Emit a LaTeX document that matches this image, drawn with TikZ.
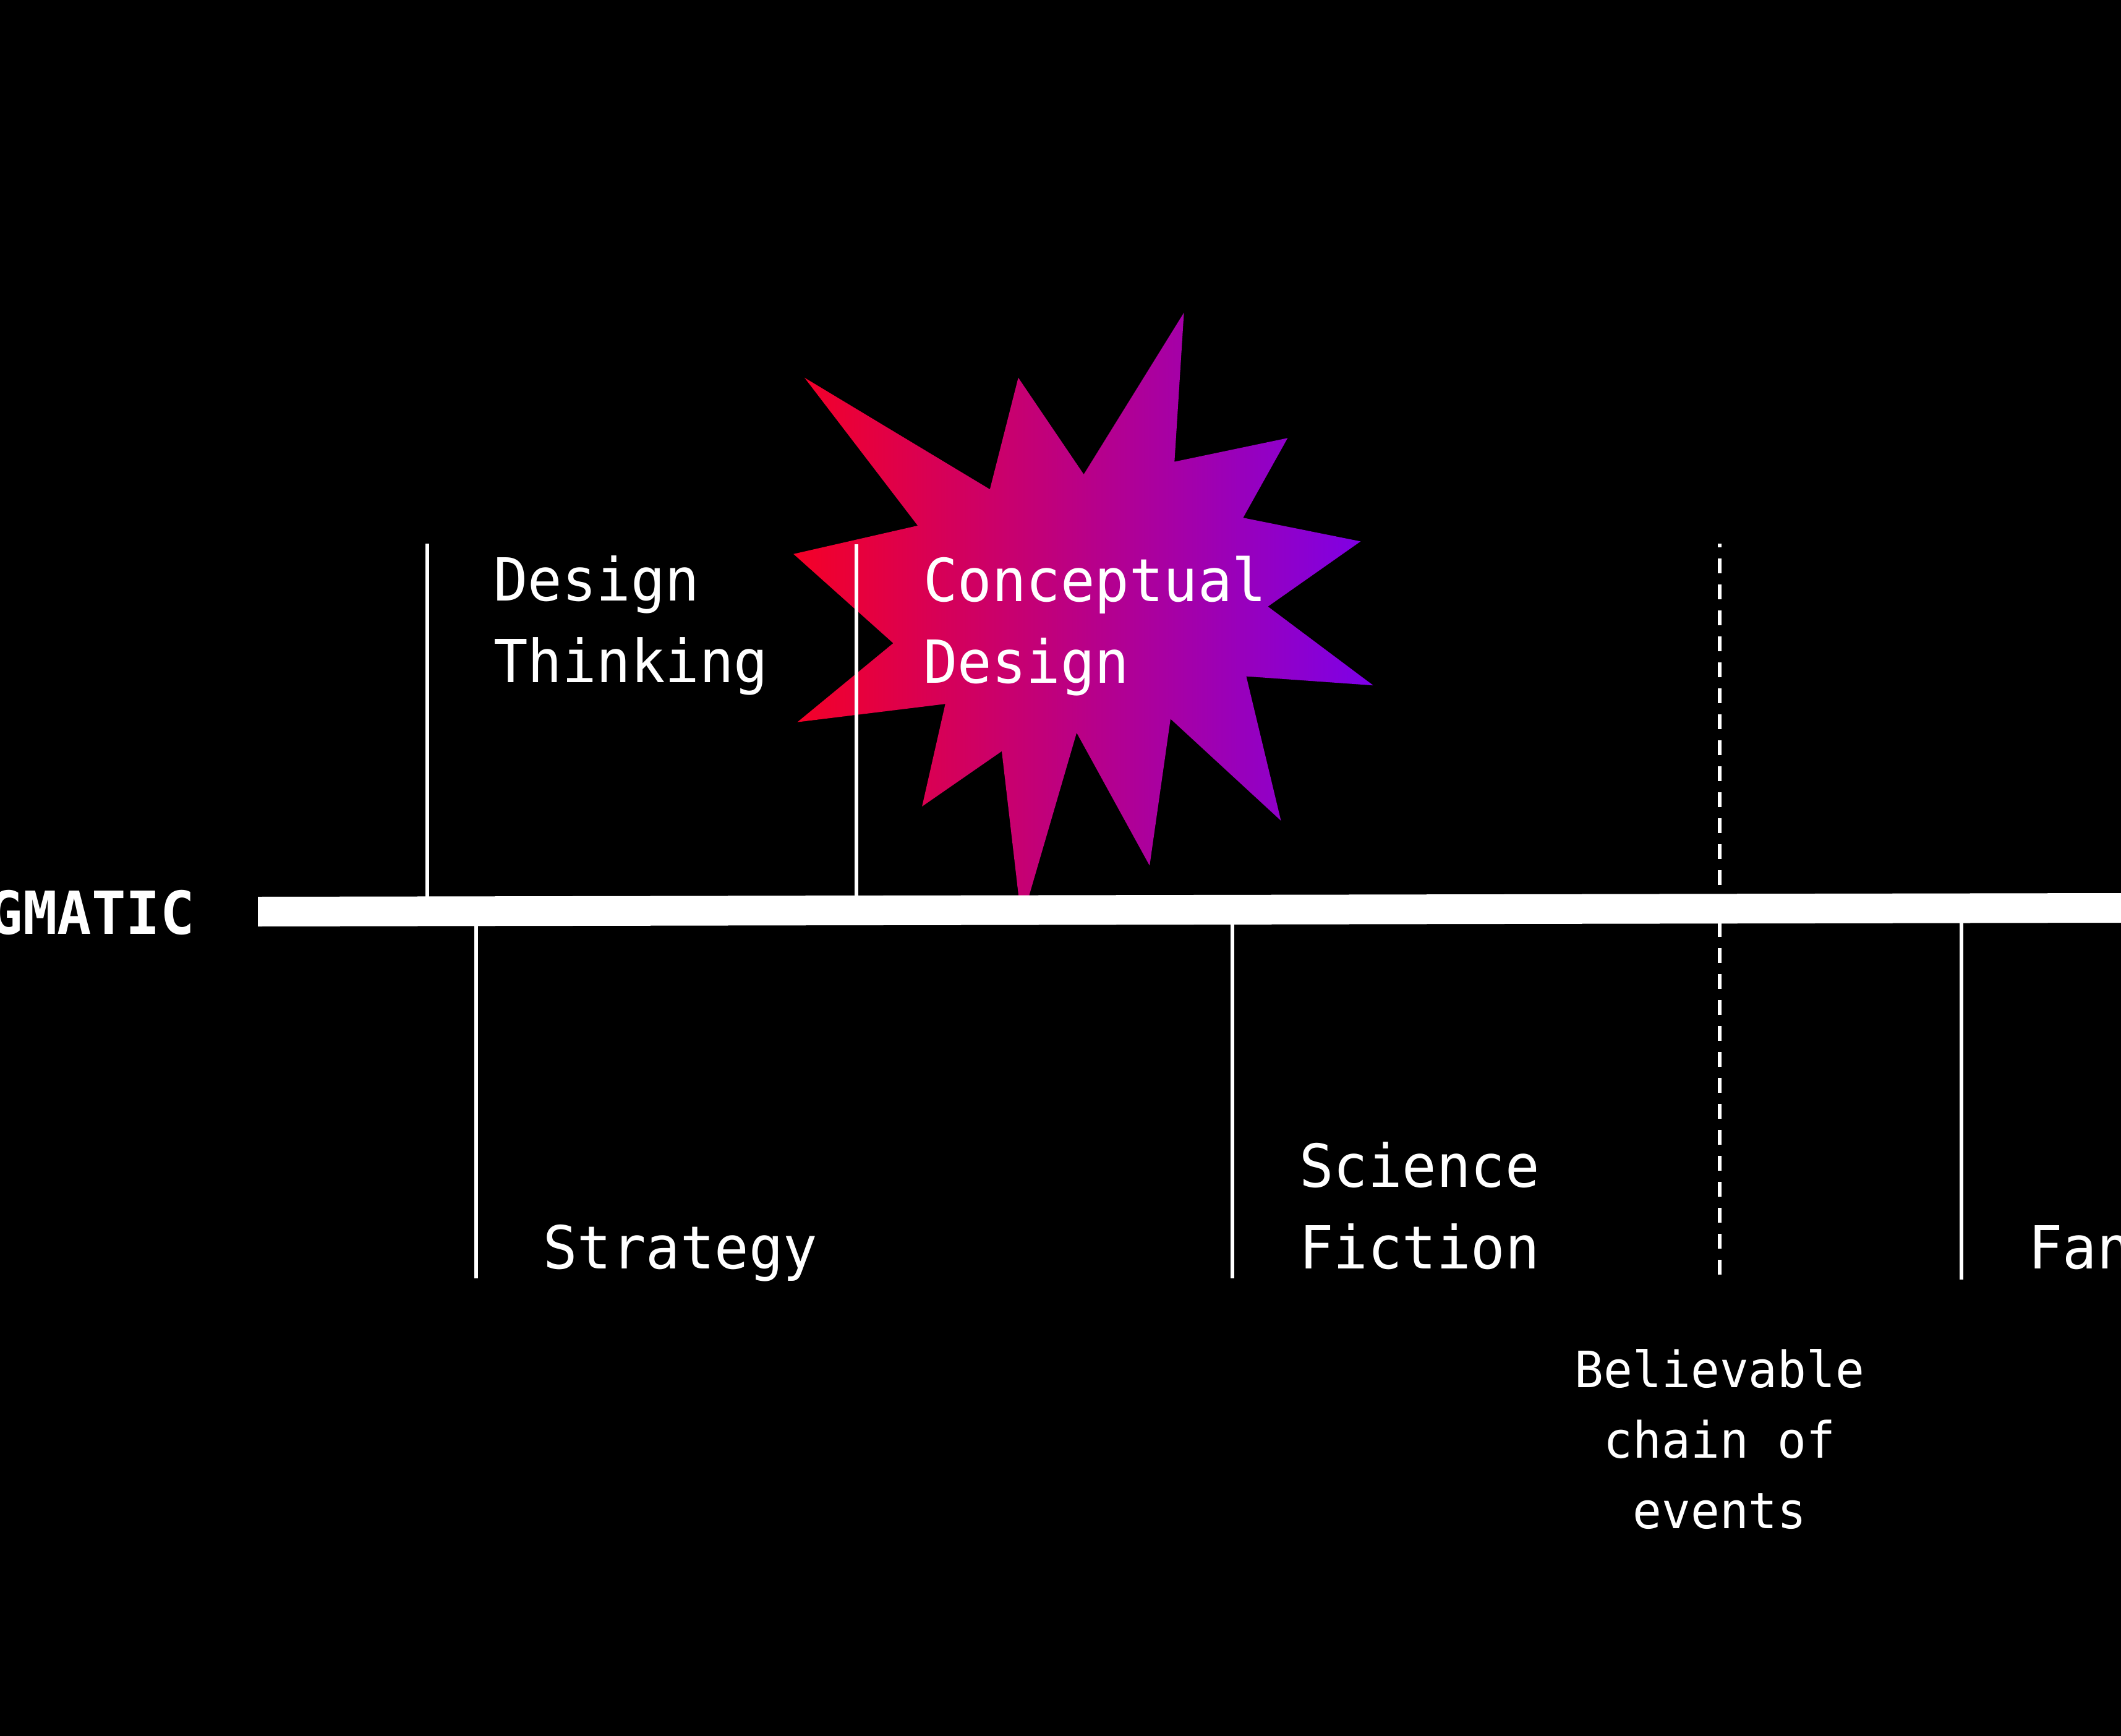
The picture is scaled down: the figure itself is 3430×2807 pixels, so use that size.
\documentclass[tikz,border=0pt]{standalone}
\usepackage{fontspec}
\setmonofont{DejaVu Sans Mono}[FakeStretch=0.96]
\definecolor{starL}{RGB}{245,0,38}
\definecolor{starR}{RGB}{125,0,232}
\begin{document}
\begin{tikzpicture}[x=1pt,y=-1pt,
  lbl/.style={text=white,font=\ttfamily\fontsize{96}{132}\selectfont,inner sep=0pt,anchor=base west},
  smalllbl/.style={text=white,font=\ttfamily\fontsize{81}{114}\selectfont,inner sep=0pt,anchor=base},
  boldlbl/.style={text=white,font=\ttfamily\bfseries\fontsize{96}{132}\selectfont,inner sep=0pt,anchor=base east},
  tick/.style={draw=white,line width=5.5pt},
  dashtick/.style={tick,dash pattern=on 24pt off 18pt,dash phase=18pt}]
\fill[black] (0,0) rectangle (3430,2807);
\useasboundingbox (0,0) rectangle (3430,2807);
\clip (0,0) rectangle (3430,2807);

% starburst
\shade[left color=starL,right color=starR]
  (1301.0,610.7) -- (1600.8,791.2) -- (1646.7,610.7) -- (1752.6,767.0)
  -- (1914.6,505.5) -- (1899.3,746.6) -- (2082.3,708.3) -- (2010.3,837.2)
  -- (2200.3,875.4) -- (2050.4,980.7) -- (2220.7,1108.2) -- (2015.4,1093.6)
  -- (2071.5,1327.0) -- (1892.9,1162.4) -- (1859.1,1399.7) -- (1741.1,1184.8)
  -- (1652.0,1490.0) -- (1620.0,1214.7) -- (1491.1,1304.0) -- (1528.7,1138.2)
  -- (1289.5,1167.6) -- (1444.5,1040.0) -- (1283.2,895.8) -- (1484.1,849.9) -- cycle;

% tick coordinates
\coordinate (u1t) at (691,879);  \coordinate (u1b) at (691,1470);
\coordinate (u2t) at (1385,880); \coordinate (u2b) at (1385,1470);
\coordinate (d1t) at (770,1470); \coordinate (d1b) at (770,2067);
\coordinate (d2t) at (1993,1470);\coordinate (d2b) at (1993,2067);
\coordinate (d3t) at (3172,1470);\coordinate (d3b) at (3172,2069);
\coordinate (dat) at (2781,879); \coordinate (dab) at (2781,2061);

\draw[tick] (u1t) -- (u1b);
\draw[tick] (u2t) -- (u2b);
\draw[tick] (d1t) -- (d1b);
\draw[tick] (d2t) -- (d2b);
\draw[tick] (d3t) -- (d3b);
\draw[dashtick] (dat) -- (dab);

% axis bar
\fill[white] (417,1450) -- (3430,1444) -- (3430,1492) -- (417,1498) -- cycle;

% labels
\node[boldlbl] (prag) at (315,1510) {PRAGMATIC};
\node[lbl] (dt) at (798,971.7) {\begin{tabular}[t]{@{}l@{}}Design\\Thinking\end{tabular}};
\node[lbl] (cd) at (1493,972.7) {\begin{tabular}[t]{@{}l@{}}Conceptual\\Design\end{tabular}};
\node[lbl] (st) at (878,2051.7) {Strategy};
\node[lbl] (sf) at (2101,1919.3) {\begin{tabular}[t]{@{}l@{}}Science\\Fiction\end{tabular}};
\node[lbl] (fa) at (3280,2051.8) {Fantasy};
\node[smalllbl] (bc) at (2781,2243) {\begin{tabular}[t]{@{}c@{}}Believable\\chain of\\events\end{tabular}};
\end{tikzpicture}
\end{document}
